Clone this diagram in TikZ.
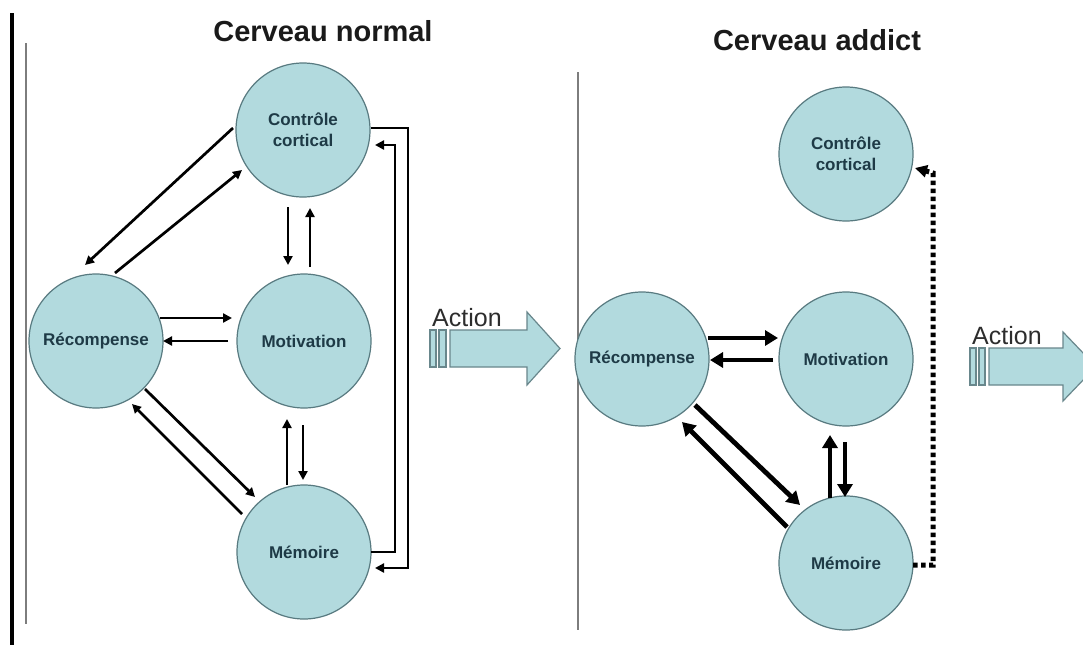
\documentclass[tikz,border=0pt]{standalone}
\usepackage{fontspec}
\setmainfont{Liberation Sans}
\usetikzlibrary{arrows.meta,calc}
\definecolor{cfill}{RGB}{178,218,222}
\definecolor{cline}{RGB}{88,122,128}
\definecolor{ctext}{RGB}{30,58,70}
\definecolor{aline}{RGB}{105,135,140}
\definecolor{titlec}{RGB}{26,26,26}
\definecolor{sepgray}{RGB}{125,125,125}
\begin{document}
\begin{tikzpicture}[x=1pt,y=-1pt,
  brain/.style={circle,draw=cline,line width=1.2pt,fill=cfill,minimum size=134pt,inner sep=0pt,
    font=\fontsize{17}{21}\selectfont\bfseries,text=ctext,align=center},
  thinarrow/.style={line width=2.7pt,-{Triangle[length=9pt,width=9pt]}},
  thickarrow/.style={line width=4.8pt,-{Triangle[length=13pt,width=15pt]}},
  dotarrow/.style={line width=5pt,dash pattern=on 4.5pt off 3.5pt,-{Triangle[length=12pt,width=12pt]}},
  titletext/.style={font=\fontsize{29}{34}\selectfont\bfseries,text=titlec,inner sep=0pt},
  actlabel/.style={font=\fontsize{25}{30}\selectfont,text={rgb,255:red,45;green,45;blue,45},anchor=base west,inner sep=0pt},
  actshape/.style={draw=aline,line width=1.2pt,fill=cfill}]
\useasboundingbox (0,0) rectangle (1083,645);
\fill[white] (0,0) rectangle (1083,645);
\clip (0,0) rectangle (1083,645);

% separators
\draw[line width=3.5pt,black] (12,13) -- (12,645);
\draw[line width=2pt,sepgray] (26,43) -- (26,624);
\draw[line width=1.8pt,sepgray] (578,72) -- (578,630);

% titles
\node[titletext] (tN) at (323,31) {Cerveau normal};
\node[titletext] (tA) at (817,40) {Cerveau addict};

% left brain
\node[brain] (ctrlL) at (303,130) {Contrôle\\cortical};
\node[brain] (recL) at (96,341) {Récompense};
\node[brain] (motL) at (304,341) {Motivation};
\node[brain] (memL) at (304,552) {Mémoire};

\draw[thinarrow] ($(ctrlL)+(-70,-2)$) -- ($(recL)+(-11,-76)$);
\draw[thinarrow] ($(recL)+(19,-68)$) -- ($(ctrlL)+(-61,40)$);
\draw[thinarrow] ($(ctrlL)+(-15,77)$) -- ($(motL)+(-16,-76)$);
\draw[thinarrow] ($(motL)+(6,-74)$) -- ($(ctrlL)+(7,78)$);
\draw[thinarrow] ($(recL)+(64,-23)$) -- ($(motL)+(-72,-23)$);
\draw[thinarrow] ($(motL)+(-76,0)$) -- ($(recL)+(67,0)$);
\draw[thinarrow] ($(memL)+(-17,-67)$) -- ($(motL)+(-17,78)$);
\draw[thinarrow] ($(motL)+(-1,84)$) -- ($(memL)+(-1,-72)$);
\draw[thinarrow] ($(recL)+(49,48)$) -- ($(memL)+(-49,-55)$);
\draw[thinarrow] ($(memL)+(-62,-38)$) -- ($(recL)+(36,63)$);
\draw[thinarrow] ($(ctrlL)+(68,-2)$) -- ++(37,0) |- ($(memL)+(71,16)$);
\draw[thinarrow] ($(memL)+(67,0)$) -- ++(24,0) |- ($(ctrlL)+(72,15)$);

% left action arrow
\node[actlabel] (actL) at (432,326) {Action};
\draw[actshape] (430,330) rectangle (436,367);
\draw[actshape] (439,330) rectangle (446,367);
\draw[actshape] (450,330) -- (527,330) -- (527,312) -- (560,348.5) -- (527,385) -- (527,367) -- (450,367) -- cycle;

% right brain
\node[brain] (ctrlR) at (846,154) {Contrôle\\cortical};
\node[brain] (recR) at (642,359) {Récompense};
\node[brain] (motR) at (846,359) {Motivation};
\node[brain] (memR) at (846,563) {Mémoire};

\draw[thickarrow] ($(recR)+(66,-21)$) -- ($(motR)+(-68,-21)$);
\draw[thickarrow] ($(motR)+(-73,1)$) -- ($(recR)+(68,1)$);
\draw[thickarrow] ($(recR)+(53,46)$) -- ($(memR)+(-46,-58)$);
\draw[thickarrow] ($(memR)+(-59,-36)$) -- ($(recR)+(40,63)$);
\draw[thickarrow] ($(memR)+(-16,-65)$) -- ($(motR)+(-16,76)$);
\draw[thickarrow] ($(motR)+(-1,83)$) -- ($(memR)+(-1,-66)$);
\coordinate (dotTop) at (933,173);
\draw[dotarrow] ($(memR)+(67,2)$) -- ++(20,0) -- (dotTop) -- ($(ctrlR)+(69,14)$);

% right action arrow
\node[actlabel] (actR) at (972,344) {Action};
\draw[actshape] (970,348) rectangle (976,385);
\draw[actshape] (979,348) rectangle (985,385);
\draw[actshape] (989,348) -- (1063,348) -- (1063,332) -- (1096,366.5) -- (1063,401) -- (1063,385) -- (989,385) -- cycle;
\end{tikzpicture}
\end{document}
